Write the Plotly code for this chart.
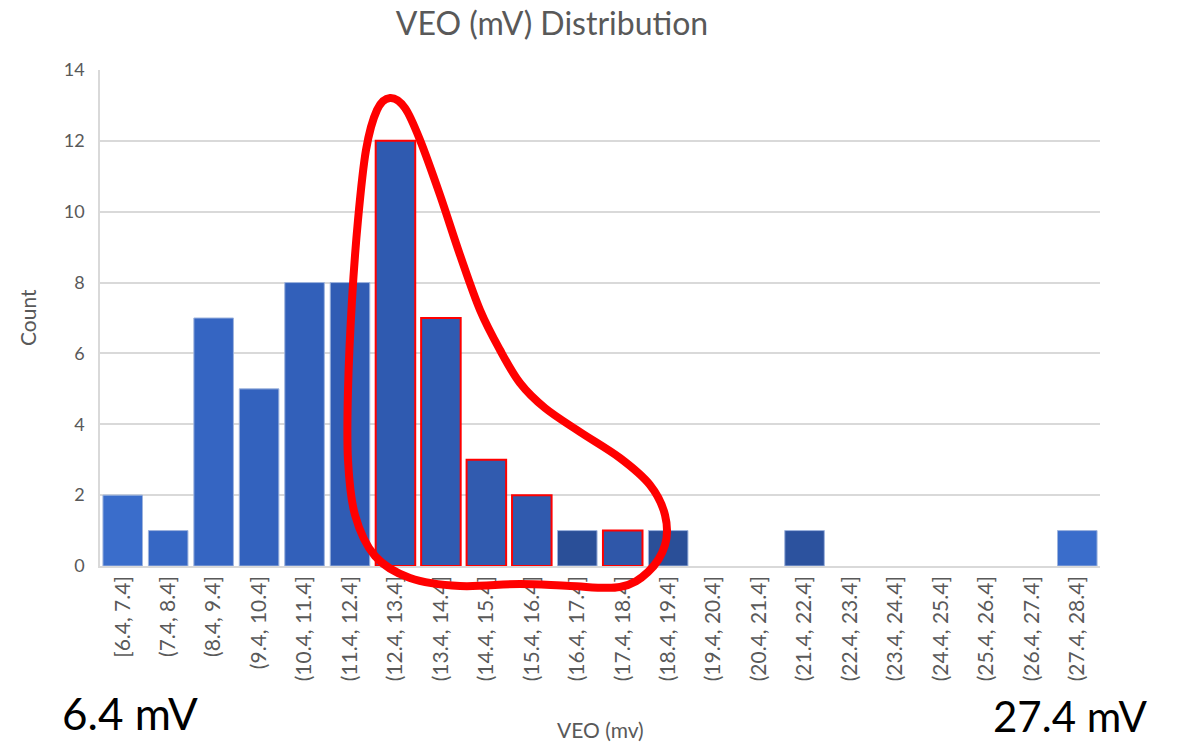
import plotly.graph_objects as go

# ---- data ----
bin_labels = ["[6.4, 7.4]", "(7.4, 8.4]", "(8.4, 9.4]", "(9.4, 10.4]", "(10.4, 11.4]",
              "(11.4, 12.4]", "(12.4, 13.4]", "(13.4, 14.4]", "(14.4, 15.4]", "(15.4, 16.4]",
              "(16.4, 17.4]", "(17.4, 18.4]", "(18.4, 19.4]", "(19.4, 20.4]", "(20.4, 21.4]",
              "(21.4, 22.4]", "(22.4, 23.4]", "(23.4, 24.4]", "(24.4, 25.4]", "(25.4, 26.4]",
              "(26.4, 27.4]", "(27.4, 28.4]"]
counts = [2, 1, 7, 5, 8, 8, 12, 7, 3, 2, 1, 1, 1, 0, 0, 1, 0, 0, 0, 0, 0, 1]
highlighted = [6, 7, 8, 9, 11]
y_ticks = [0, 2, 4, 6, 8, 10, 12, 14]

# ---- styles ----
fill_colors = ["#3A6DCB", "#3667C4", "#3565C2", "#3362BE", "#3260BA", "#305CB4",
               "#2F5AB0", "#305BB1", "#315BAF", "#305AAE", "#2A4F98", "#2F57A9",
               "#2A4F98", "#2A4F98", "#2A4F98", "#2C529E", "#2A4F98", "#2A4F98",
               "#2A4F98", "#2A4F98", "#2A4F98", "#3A6DCB"]
line_colors = ["#FF0000" if i in highlighted else "#9DB3DD" for i in range(len(counts))]
line_widths = [2 if i in highlighted else (1 if counts[i] > 0 else 0) for i in range(len(counts))]

W, H = 1178, 743
L, R, T, B = 100, 78, 70, 177
PW, PH = W - L - R, H - T - B
GREY = "#595959"
FONT = "Lato, Open Sans, sans-serif"

xs = list(range(len(counts)))
fig = go.Figure(go.Bar(
    x=xs, y=counts,
    marker=dict(color=fill_colors, line=dict(color=line_colors, width=line_widths)),
    hoverinfo="x+y",
))


def px2dom(px, py):
    return (px - L) / PW, (H - B - py) / PH


# hand-drawn loop (in pixel positions of the reference, converted to plot-domain coords)
loop_px = [(390, 98), (405, 108), (420, 140), (440, 195), (460, 255), (480, 310), (500, 350),
           (520, 383), (545, 408), (580, 432), (620, 458), (650, 485), (665, 515), (665, 545),
           (648, 572), (620, 587), (570, 586), (520, 584), (460, 586), (410, 578), (375, 556),
           (355, 515), (348, 460), (348, 390), (352, 300), (358, 220), (366, 150), (377, 110)]
pts = [px2dom(*p) for p in loop_px]
n = len(pts)
path = "M %.5f,%.5f" % pts[0]
for i in range(n):
    p0 = pts[(i - 1) % n]
    p1 = pts[i]
    p2 = pts[(i + 1) % n]
    p3 = pts[(i + 2) % n]
    c1 = (p1[0] + (p2[0] - p0[0]) / 6, p1[1] + (p2[1] - p0[1]) / 6)
    c2 = (p2[0] - (p3[0] - p1[0]) / 6, p2[1] - (p3[1] - p1[1]) / 6)
    path += " C %.5f,%.5f %.5f,%.5f %.5f,%.5f" % (c1[0], c1[1], c2[0], c2[1], p2[0], p2[1])
path += " Z"

fig.add_shape(type="path", path=path, xref="x domain", yref="y domain",
              line=dict(color="#FF0000", width=8), fillcolor="rgba(0,0,0,0)", layer="above")


def ann(text, px, py, size, color, angle=0):
    x, y = px2dom(px, py)
    return dict(text=text, xref="paper", yref="paper", x=x, y=y,
                xanchor="center", yanchor="middle", showarrow=False, textangle=angle,
                font=dict(size=size, color=color, family=FONT))


fig.update_layout(
    width=W, height=H,
    margin=dict(l=L, r=R, t=T, b=B),
    paper_bgcolor="white", plot_bgcolor="white",
    bargap=0.13,
    showlegend=False,
    font=dict(family=FONT, color=GREY),
    title=dict(text="VEO (mV) Distribution", x=552 / W, xanchor="center",
               y=1 - 24 / H, yanchor="middle", font=dict(size=32, color=GREY, family=FONT)),
    xaxis=dict(
        range=[-0.5, len(counts) - 0.5],
        tickvals=xs, ticktext=bin_labels, tickangle=-90,
        tickfont=dict(size=21, color=GREY), ticks="", ticklen=0,
        showgrid=False, showline=True, linecolor="#D9D9D9", linewidth=1.5,
        zeroline=False,
    ),
    yaxis=dict(
        range=[0, 14], tickvals=y_ticks,
        tickfont=dict(size=18, color=GREY), ticks="", ticklabelstandoff=10,
        showgrid=True, gridcolor="#D9D9D9", gridwidth=1.5,
        showline=True, linecolor="#D9D9D9", linewidth=1.5,
        zeroline=False,
    ),
    annotations=[
        ann("VEO (mv)", 600, 729, 21, GREY),
        ann("Count", 27, 318, 21, GREY, -90),
        ann("6.4 mV", 130, 713, 44, "black"),
        ann("27.4 mV", 1070, 716, 42, "black"),
    ],
)

fig.write_html("out.html", config={"displayModeBar": False},
               post_script="document.body.style.margin='0';document.body.style.overflow='hidden';")
